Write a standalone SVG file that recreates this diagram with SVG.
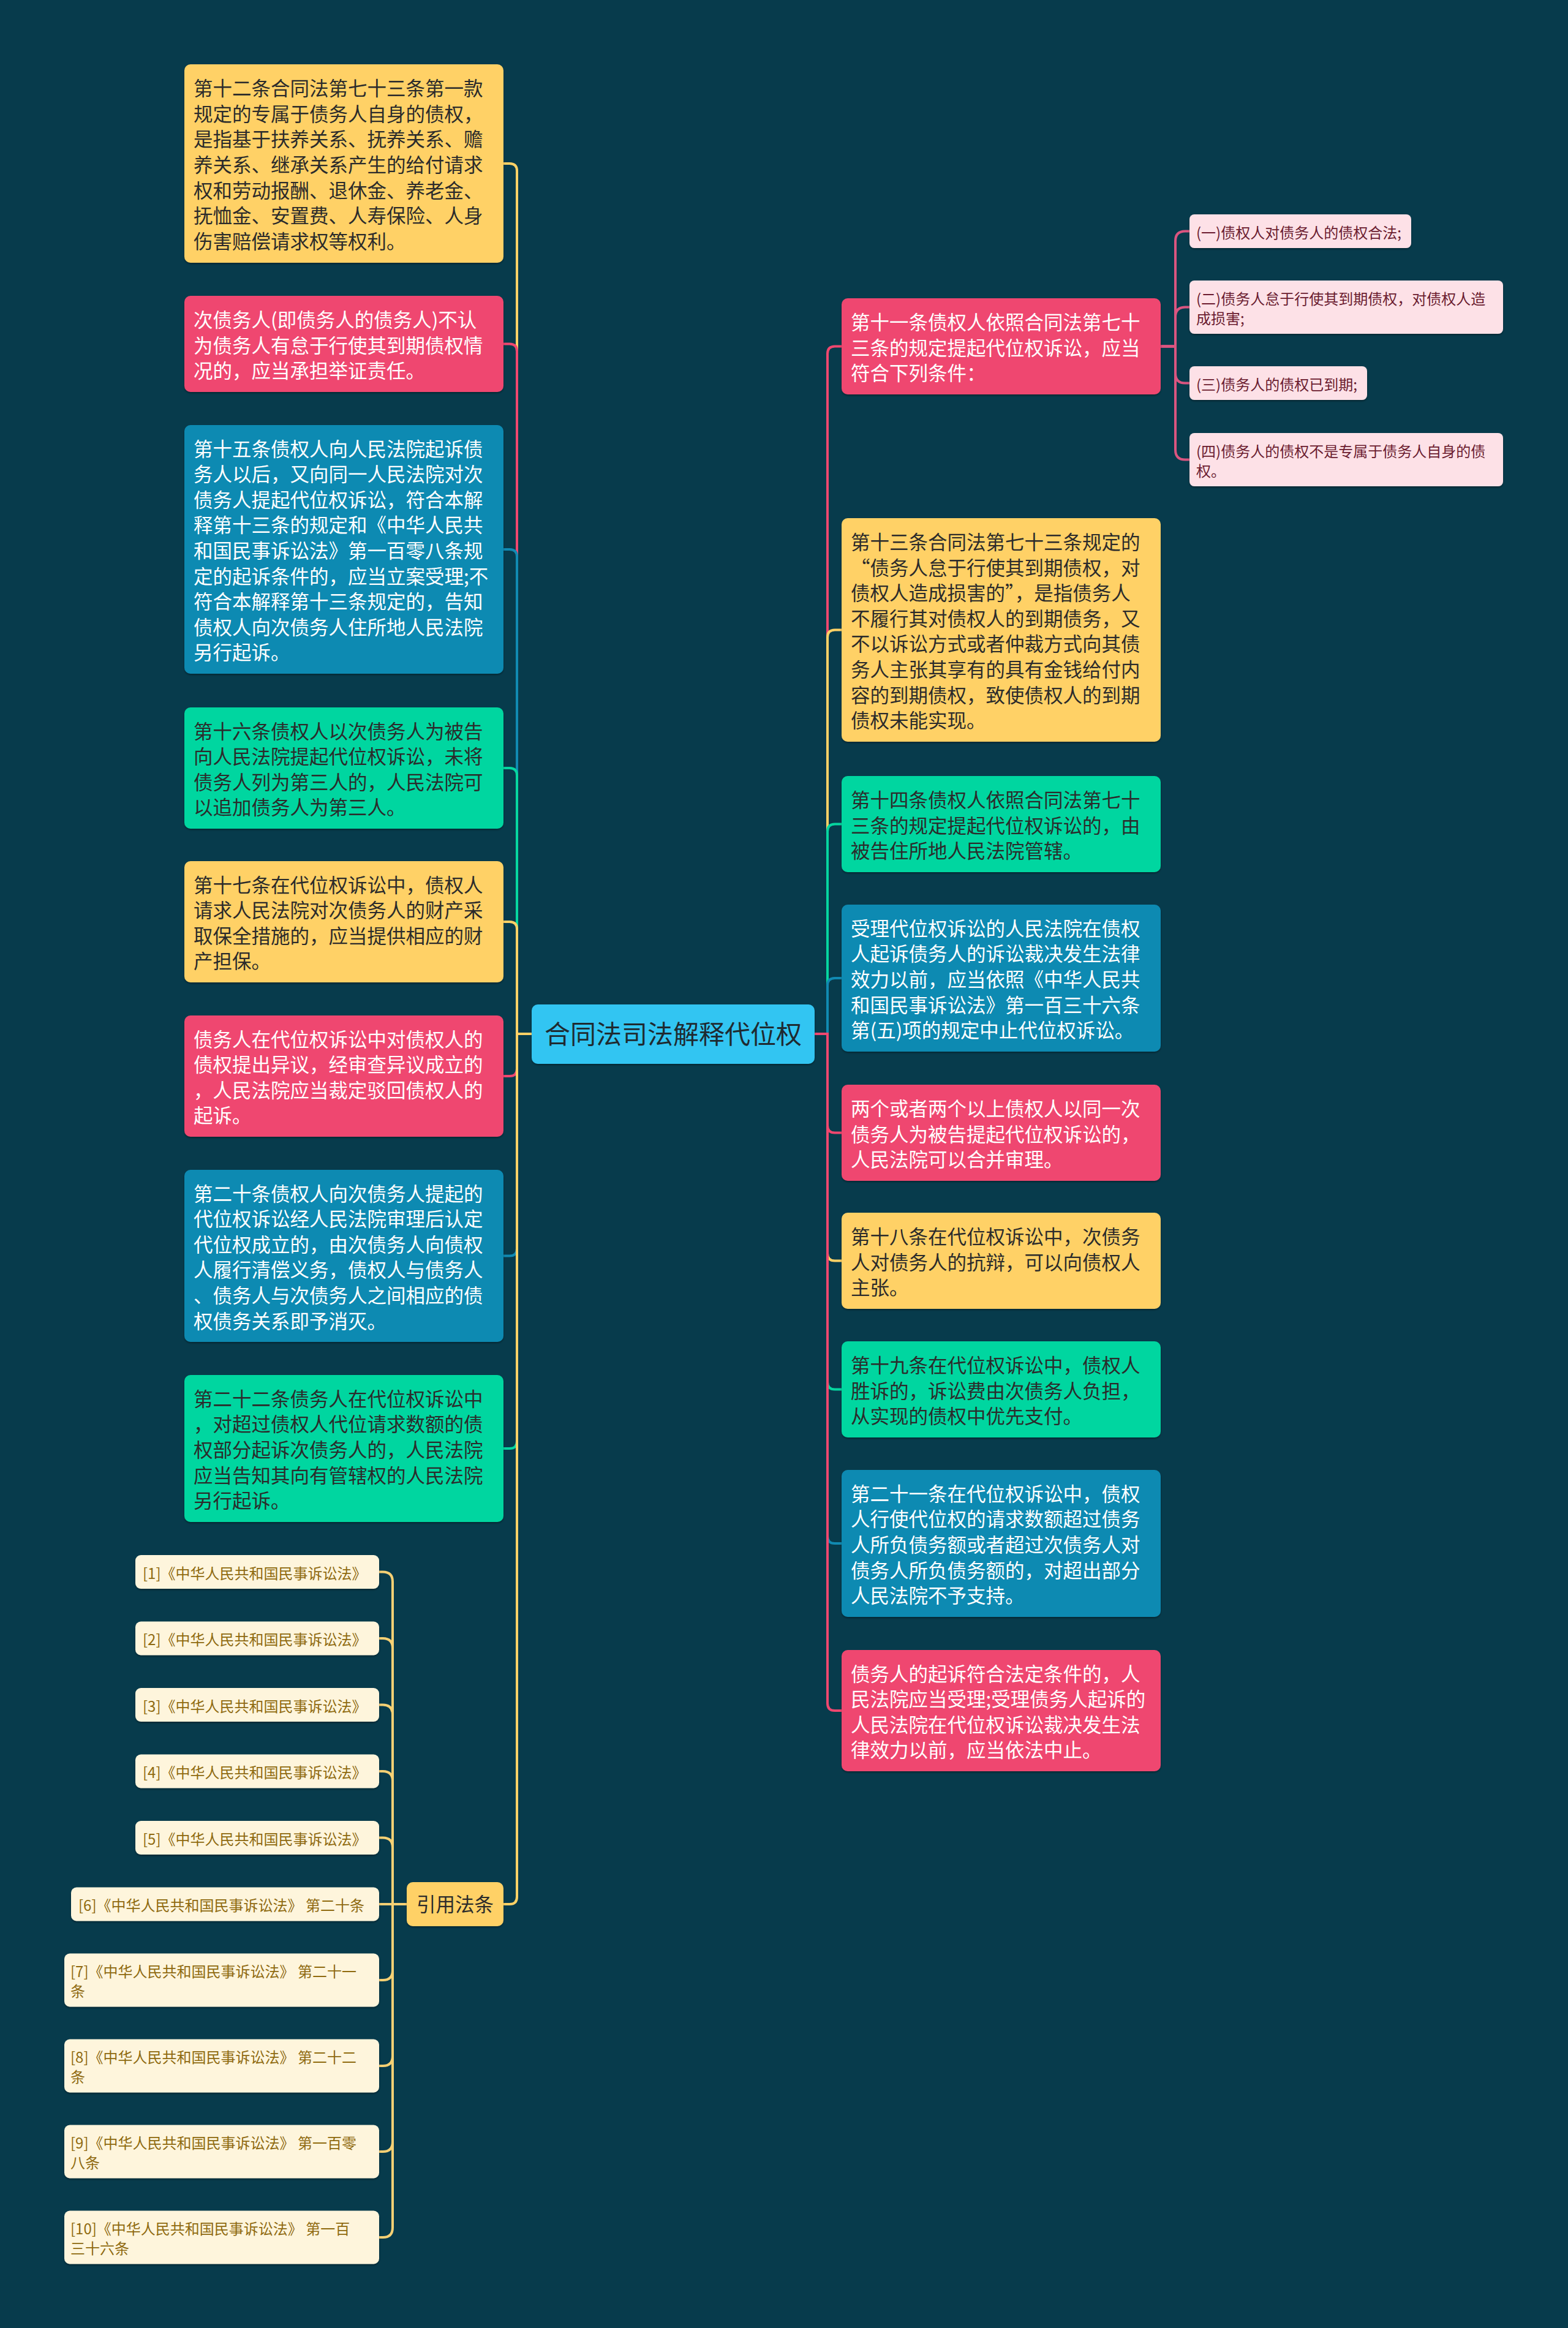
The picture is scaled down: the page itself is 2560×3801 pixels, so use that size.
<svg xmlns="http://www.w3.org/2000/svg" width="2560" height="3801" viewBox="0 0 2560 3801">
<defs>
<filter id="sh" x="-5%" y="-10%" width="110%" height="125%">
<feDropShadow dx="0" dy="2" stdDeviation="1.5" flood-color="#000000" flood-opacity="0.35"/>
</filter>
</defs>
<style>
text{font-family:"Noto Sans CJK SC","Noto Sans",sans-serif}
.t{font-size:31.5px}
.s{font-size:24px}
.lt{fill:#ffffff}
.dk{fill:#2b2b2b}
rect{filter:url(#sh)}
.pk{fill:#EF476F}
.yl{fill:#FFD166}
.gr{fill:#06D6A0}
.bl{fill:#118AB2}
.ch{fill:#FDE1E7}
.cht{fill:#6b1c30}
.ct{fill:#FEF5DC}
.ctt{fill:#8f6a10}
.c path{fill:none;stroke-width:4;stroke-linecap:round}
.spk{stroke:#EF476F}
.syl{stroke:#FFD166}
.sgr{stroke:#06D6A0}
.sbl{stroke:#118AB2}
.sch{stroke:#DA5580}
.sct{stroke:#F5D074}
</style>
<rect x="0" y="0" width="2560" height="3801" fill="#073B4C" style="filter:none"/>
<g class="c" id="connectors">
<path class="syl" d="M868,1688H844V279Q844,267 832,267H822"/>
<path class="spk" d="M868,1688H844V573.5Q844,561.5 832,561.5H822"/>
<path class="sbl" d="M868,1688H844V909Q844,897 832,897H822"/>
<path class="sgr" d="M868,1688H844V1266Q844,1254 832,1254H822"/>
<path class="syl" d="M868,1688H844V1517Q844,1505 832,1505H822"/>
<path class="spk" d="M868,1688H844V1745Q844,1757 832,1757H822"/>
<path class="sbl" d="M868,1688H844V2038.5Q844,2050.5 832,2050.5H822"/>
<path class="sgr" d="M868,1688H844V2353Q844,2365 832,2365H822"/>
<path class="syl" d="M868,1688H844V3097Q844,3109 832,3109H822"/>
<path class="spk" d="M1330,1688H1351V577.5Q1351,565.5 1363,565.5H1374"/>
<path class="syl" d="M1330,1688H1351V1040.5Q1351,1028.5 1363,1028.5H1374"/>
<path class="sgr" d="M1330,1688H1351V1357.5Q1351,1345.5 1363,1345.5H1374"/>
<path class="sbl" d="M1330,1688H1351V1609Q1351,1597 1363,1597H1374"/>
<path class="spk" d="M1330,1688H1351V1837.5Q1351,1849.5 1363,1849.5H1374"/>
<path class="syl" d="M1330,1688H1351V2046.5Q1351,2058.5 1363,2058.5H1374"/>
<path class="sgr" d="M1330,1688H1351V2256.5Q1351,2268.5 1363,2268.5H1374"/>
<path class="sbl" d="M1330,1688H1351V2508Q1351,2520 1363,2520H1374"/>
<path class="spk" d="M1330,1688H1351V2781Q1351,2793 1363,2793H1374"/>
<path class="sch" d="M1895,565.5H1919V393.5Q1919,377.5 1935,377.5H1942"/>
<path class="sch" d="M1895,565.5H1919V517.5Q1919,501.5 1935,501.5H1942"/>
<path class="sch" d="M1895,565.5H1919V609.5Q1919,625.5 1935,625.5H1942"/>
<path class="sch" d="M1895,565.5H1919V734.5Q1919,750.5 1935,750.5H1942"/>
<path class="sct" d="M664,3109H641V2582.5Q641,2566.5 625,2566.5H619"/>
<path class="sct" d="M664,3109H641V2691Q641,2675 625,2675H619"/>
<path class="sct" d="M664,3109H641V2799.5Q641,2783.5 625,2783.5H619"/>
<path class="sct" d="M664,3109H641V2908Q641,2892 625,2892H619"/>
<path class="sct" d="M664,3109H641V3016.5Q641,3000.5 625,3000.5H619"/>
<path class="sct" d="M664,3109H619"/>
<path class="sct" d="M664,3109H641V3217Q641,3233 625,3233H619"/>
<path class="sct" d="M664,3109H641V3357Q641,3373 625,3373H619"/>
<path class="sct" d="M664,3109H641V3497Q641,3513 625,3513H619"/>
<path class="sct" d="M664,3109H641V3637Q641,3653 625,3653H619"/>
</g>
<g id="root">
<rect x="868" y="1640" width="462" height="97" rx="10" fill="#30C5F2"/>
<text x="1099" y="1704" font-size="42" text-anchor="middle" fill="#1f2a30">合同法司法解释代位权</text>
</g>
<g id="L1">
<rect class="yl" x="301" y="105" width="521" height="324" rx="10"/>
<text class="t dk" x="316"><tspan x="316" y="156.2">第十二条合同法第七十三条第一款</tspan><tspan x="316" y="197.8">规定的专属于债务人自身的债权，</tspan><tspan x="316" y="239.4">是指基于扶养关系、抚养关系、赡</tspan><tspan x="316" y="281">养关系、继承关系产生的给付请求</tspan><tspan x="316" y="322.6">权和劳动报酬、退休金、养老金、</tspan><tspan x="316" y="364.2">抚恤金、安置费、人寿保险、人身</tspan><tspan x="316" y="405.8">伤害赔偿请求权等权利。</tspan></text>
</g>
<g id="L2">
<rect class="pk" x="301" y="483" width="521" height="157" rx="10"/>
<text class="t lt"><tspan x="316" y="533.9">次债务人(即债务人的债务人)不认</tspan><tspan x="316" y="575.5">为债务人有怠于行使其到期债权情</tspan><tspan x="316" y="617.1">况的，应当承担举证责任。</tspan></text>
</g>
<g id="L3">
<rect class="bl" x="301" y="694" width="521" height="406" rx="10"/>
<text class="t lt"><tspan x="316" y="744.6">第十五条债权人向人民法院起诉债</tspan><tspan x="316" y="786.2">务人以后，又向同一人民法院对次</tspan><tspan x="316" y="827.8">债务人提起代位权诉讼，符合本解</tspan><tspan x="316" y="869.4">释第十三条的规定和《中华人民共</tspan><tspan x="316" y="911">和国民事诉讼法》第一百零八条规</tspan><tspan x="316" y="952.6">定的起诉条件的，应当立案受理;不</tspan><tspan x="316" y="994.2">符合本解释第十三条规定的，告知</tspan><tspan x="316" y="1035.8">债权人向次债务人住所地人民法院</tspan><tspan x="316" y="1077.4">另行起诉。</tspan></text>
</g>
<g id="L4">
<rect class="gr" x="301" y="1155" width="521" height="198" rx="10"/>
<text class="t dk"><tspan x="316" y="1205.6">第十六条债权人以次债务人为被告</tspan><tspan x="316" y="1247.2">向人民法院提起代位权诉讼，未将</tspan><tspan x="316" y="1288.8">债务人列为第三人的，人民法院可</tspan><tspan x="316" y="1330.4">以追加债务人为第三人。</tspan></text>
</g>
<g id="L5">
<rect class="yl" x="301" y="1406" width="521" height="198" rx="10"/>
<text class="t dk"><tspan x="316" y="1456.6">第十七条在代位权诉讼中，债权人</tspan><tspan x="316" y="1498.2">请求人民法院对次债务人的财产采</tspan><tspan x="316" y="1539.8">取保全措施的，应当提供相应的财</tspan><tspan x="316" y="1581.4">产担保。</tspan></text>
</g>
<g id="L6">
<rect class="pk" x="301" y="1658" width="521" height="198" rx="10"/>
<text class="t lt"><tspan x="316" y="1708.6">债务人在代位权诉讼中对债权人的</tspan><tspan x="316" y="1750.2">债权提出异议，经审查异议成立的</tspan><tspan x="316" y="1791.8">，人民法院应当裁定驳回债权人的</tspan><tspan x="316" y="1833.4">起诉。</tspan></text>
</g>
<g id="L7">
<rect class="bl" x="301" y="1910" width="521" height="281" rx="10"/>
<text class="t lt"><tspan x="316" y="1960.5">第二十条债权人向次债务人提起的</tspan><tspan x="316" y="2002.1">代位权诉讼经人民法院审理后认定</tspan><tspan x="316" y="2043.7">代位权成立的，由次债务人向债权</tspan><tspan x="316" y="2085.3">人履行清偿义务，债权人与债务人</tspan><tspan x="316" y="2126.9">、债务人与次债务人之间相应的债</tspan><tspan x="316" y="2168.5">权债务关系即予消灭。</tspan></text>
</g>
<g id="L8">
<rect class="gr" x="301" y="2245" width="521" height="240" rx="10"/>
<text class="t dk"><tspan x="316" y="2295.8">第二十二条债务人在代位权诉讼中</tspan><tspan x="316" y="2337.4">，对超过债权人代位请求数额的债</tspan><tspan x="316" y="2379">权部分起诉次债务人的，人民法院</tspan><tspan x="316" y="2420.6">应当告知其向有管辖权的人民法院</tspan><tspan x="316" y="2462.2">另行起诉。</tspan></text>
</g>
<g id="cite">
<rect class="yl" x="664" y="3073" width="158" height="72" rx="10"/>
<text class="t dk" x="743" y="3121" text-anchor="middle">引用法条</text>
</g>
<g id="c1"><rect class="ct" x="221" y="2539" width="398" height="55" rx="9"/><text class="s ctt" x="233" y="2577.5">[1]《中华人民共和国民事诉讼法》</text></g>
<g id="c2"><rect class="ct" x="221" y="2647.5" width="398" height="55" rx="9"/><text class="s ctt" x="233" y="2686">[2]《中华人民共和国民事诉讼法》</text></g>
<g id="c3"><rect class="ct" x="221" y="2756" width="398" height="55" rx="9"/><text class="s ctt" x="233" y="2794.5">[3]《中华人民共和国民事诉讼法》</text></g>
<g id="c4"><rect class="ct" x="221" y="2864.5" width="398" height="55" rx="9"/><text class="s ctt" x="233" y="2903">[4]《中华人民共和国民事诉讼法》</text></g>
<g id="c5"><rect class="ct" x="221" y="2973" width="398" height="55" rx="9"/><text class="s ctt" x="233" y="3011.5">[5]《中华人民共和国民事诉讼法》</text></g>
<g id="c6"><rect class="ct" x="116" y="3081.5" width="503" height="55" rx="9"/><text class="s ctt" x="128" y="3120">[6]《中华人民共和国民事诉讼法》 第二十条</text></g>
<g id="c7"><rect class="ct" x="105" y="3189.5" width="514" height="87" rx="9"/><text class="s ctt"><tspan x="115" y="3228">[7]《中华人民共和国民事诉讼法》 第二十一</tspan><tspan x="115" y="3260">条</tspan></text></g>
<g id="c8"><rect class="ct" x="105" y="3329.5" width="514" height="87" rx="9"/><text class="s ctt"><tspan x="115" y="3368">[8]《中华人民共和国民事诉讼法》 第二十二</tspan><tspan x="115" y="3400">条</tspan></text></g>
<g id="c9"><rect class="ct" x="105" y="3469.5" width="514" height="87" rx="9"/><text class="s ctt"><tspan x="115" y="3508">[9]《中华人民共和国民事诉讼法》 第一百零</tspan><tspan x="115" y="3540">八条</tspan></text></g>
<g id="c10"><rect class="ct" x="105" y="3609.5" width="514" height="87" rx="9"/><text class="s ctt"><tspan x="115" y="3648">[10]《中华人民共和国民事诉讼法》 第一百</tspan><tspan x="115" y="3680">三十六条</tspan></text></g>
<g id="R1">
<rect class="pk" x="1374" y="487" width="521" height="157" rx="10"/>
<text class="t lt"><tspan x="1389" y="537.9">第十一条债权人依照合同法第七十</tspan><tspan x="1389" y="579.5">三条的规定提起代位权诉讼，应当</tspan><tspan x="1389" y="621.1">符合下列条件：</tspan></text>
</g>
<g id="R1a"><rect class="ch" x="1942" y="350" width="362" height="55" rx="8"/><text class="s cht" x="1953" y="388.5">(一)债权人对债务人的债权合法;</text></g>
<g id="R1b"><rect class="ch" x="1942" y="458" width="512" height="87" rx="8"/><text class="s cht"><tspan x="1953" y="496.5">(二)债务人怠于行使其到期债权，对债权人造</tspan><tspan x="1953" y="528.5">成损害;</tspan></text></g>
<g id="R1c"><rect class="ch" x="1942" y="598" width="290" height="55" rx="8"/><text class="s cht" x="1953" y="636.5">(三)债务人的债权已到期;</text></g>
<g id="R1d"><rect class="ch" x="1942" y="707" width="512" height="87" rx="8"/><text class="s cht"><tspan x="1953" y="745.5">(四)债务人的债权不是专属于债务人自身的债</tspan><tspan x="1953" y="777.5">权。</tspan></text></g>
<g id="R2">
<rect class="yl" x="1374" y="846" width="521" height="365" rx="10"/>
<text class="t dk"><tspan x="1389" y="896.9">第十三条合同法第七十三条规定的</tspan><tspan x="1389" y="938.5">“债务人怠于行使其到期债权，对</tspan><tspan x="1389" y="980.1">债权人造成损害的”，是指债务人</tspan><tspan x="1389" y="1021.7">不履行其对债权人的到期债务，又</tspan><tspan x="1389" y="1063.3">不以诉讼方式或者仲裁方式向其债</tspan><tspan x="1389" y="1104.9">务人主张其享有的具有金钱给付内</tspan><tspan x="1389" y="1146.5">容的到期债权，致使债权人的到期</tspan><tspan x="1389" y="1188.1">债权未能实现。</tspan></text>
</g>
<g id="R3">
<rect class="gr" x="1374" y="1267" width="521" height="157" rx="10"/>
<text class="t dk"><tspan x="1389" y="1317.9">第十四条债权人依照合同法第七十</tspan><tspan x="1389" y="1359.5">三条的规定提起代位权诉讼的，由</tspan><tspan x="1389" y="1401.1">被告住所地人民法院管辖。</tspan></text>
</g>
<g id="R4">
<rect class="bl" x="1374" y="1477" width="521" height="240" rx="10"/>
<text class="t lt"><tspan x="1389" y="1527.8">受理代位权诉讼的人民法院在债权</tspan><tspan x="1389" y="1569.4">人起诉债务人的诉讼裁决发生法律</tspan><tspan x="1389" y="1611">效力以前，应当依照《中华人民共</tspan><tspan x="1389" y="1652.6">和国民事诉讼法》第一百三十六条</tspan><tspan x="1389" y="1694.2">第(五)项的规定中止代位权诉讼。</tspan></text>
</g>
<g id="R5">
<rect class="pk" x="1374" y="1771" width="521" height="157" rx="10"/>
<text class="t lt"><tspan x="1389" y="1821.9">两个或者两个以上债权人以同一次</tspan><tspan x="1389" y="1863.5">债务人为被告提起代位权诉讼的，</tspan><tspan x="1389" y="1905.1">人民法院可以合并审理。</tspan></text>
</g>
<g id="R6">
<rect class="yl" x="1374" y="1980" width="521" height="157" rx="10"/>
<text class="t dk"><tspan x="1389" y="2030.9">第十八条在代位权诉讼中，次债务</tspan><tspan x="1389" y="2072.5">人对债务人的抗辩，可以向债权人</tspan><tspan x="1389" y="2114.1">主张。</tspan></text>
</g>
<g id="R7">
<rect class="gr" x="1374" y="2190" width="521" height="157" rx="10"/>
<text class="t dk"><tspan x="1389" y="2240.9">第十九条在代位权诉讼中，债权人</tspan><tspan x="1389" y="2282.5">胜诉的，诉讼费由次债务人负担，</tspan><tspan x="1389" y="2324.1">从实现的债权中优先支付。</tspan></text>
</g>
<g id="R8">
<rect class="bl" x="1374" y="2400" width="521" height="240" rx="10"/>
<text class="t lt"><tspan x="1389" y="2450.8">第二十一条在代位权诉讼中，债权</tspan><tspan x="1389" y="2492.4">人行使代位权的请求数额超过债务</tspan><tspan x="1389" y="2534">人所负债务额或者超过次债务人对</tspan><tspan x="1389" y="2575.6">债务人所负债务额的，对超出部分</tspan><tspan x="1389" y="2617.2">人民法院不予支持。</tspan></text>
</g>
<g id="R9">
<rect class="pk" x="1374" y="2694" width="521" height="198" rx="10"/>
<text class="t lt"><tspan x="1389" y="2744.6">债务人的起诉符合法定条件的，人</tspan><tspan x="1389" y="2786.2">民法院应当受理;受理债务人起诉的</tspan><tspan x="1389" y="2827.8">人民法院在代位权诉讼裁决发生法</tspan><tspan x="1389" y="2869.4">律效力以前，应当依法中止。</tspan></text>
</g>
</svg>
